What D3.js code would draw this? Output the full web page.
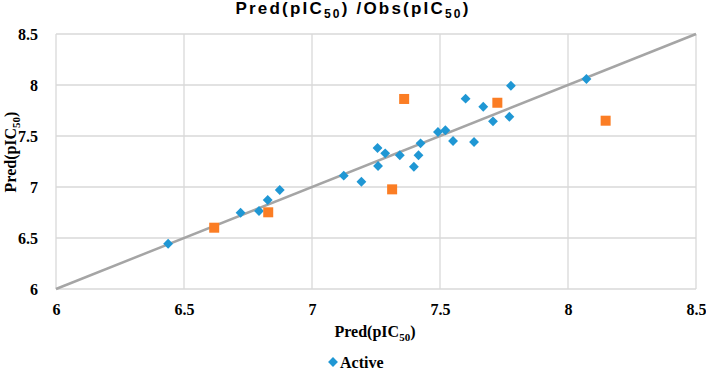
<!DOCTYPE html>
<html><head><meta charset="utf-8">
<script src="https://cdn.jsdelivr.net/npm/d3@7"></script>
<style>body{margin:0;background:#fff}</style>
</head><body>
<svg id="c" width="706" height="369"></svg>
<script>
const activeX = [6.438,6.721,6.793,6.827,6.874,7.124,7.193,7.256,7.286,7.258,7.343,7.398,7.416,7.424,7.492,7.521,7.551,7.600,7.633,7.669,7.707,7.771,7.777,8.072];
const activeY = [6.444,6.748,6.765,6.873,6.971,7.111,7.052,7.382,7.330,7.206,7.311,7.199,7.311,7.428,7.539,7.556,7.451,7.866,7.441,7.787,7.644,7.689,7.993,8.059];
const testX = [6.618,6.829,7.313,7.360,7.724,8.147];
const testY = [6.601,6.752,6.977,7.863,7.826,7.650];
const ticks = [6,6.5,7,7.5,8,8.5];
const tickLabels = ["6","6.5","7","7.5","8","8.5"];
const legendLabels = ["Active"];

const svg = d3.select("#c");
const x = d3.scaleLinear().domain([6,8.5]).range([56,696]);
const y = d3.scaleLinear().domain([6,8.5]).range([289,34]);
const grid = "#d9d9d9";

svg.append("g").selectAll("line").data(ticks).join("line")
  .attr("x1", d=>x(d)).attr("x2", d=>x(d)).attr("y1", y(8.5)).attr("y2", y(6))
  .attr("stroke", grid).attr("stroke-width", 1.3);
svg.append("g").selectAll("line").data(ticks).join("line")
  .attr("y1", d=>y(d)).attr("y2", d=>y(d)).attr("x1", x(6)).attr("x2", x(8.5))
  .attr("stroke", grid).attr("stroke-width", 1.3);

const xAxis = svg.append("g").attr("transform",`translate(0,${y(6)})`)
  .call(d3.axisBottom(x).tickValues(ticks).tickFormat((d,i)=>tickLabels[i]).tickSize(0).tickPadding(15));
const yAxis = svg.append("g").attr("transform",`translate(${x(6)},0)`)
  .call(d3.axisLeft(y).tickValues(ticks).tickFormat((d,i)=>tickLabels[i]).tickSize(0).tickPadding(18));
[xAxis,yAxis].forEach(a=>{
  a.attr("font-family", null).attr("font-size", null);
  a.select(".domain").remove();
  a.selectAll("text").style("font-family","'Liberation Serif',serif").style("font-weight","bold")
   .style("font-size","16px").attr("fill","#000");
});

svg.append("line").attr("x1",x(6)).attr("y1",y(6)).attr("x2",x(8.5)).attr("y2",y(8.5))
  .attr("stroke","#a5a5a5").attr("stroke-width",2.5);

const blue = "#1f97d4", orange = "#fb7d24";
const diamond = d3.symbol().type(d3.symbolDiamond2).size(62);
svg.append("g").selectAll("path").data(activeX).join("path")
  .attr("d", diamond).attr("fill", blue)
  .attr("transform", (d,i)=>`translate(${x(d)},${y(activeY[i])})`);
svg.append("g").selectAll("rect").data(testX).join("rect")
  .attr("x", d=>x(d)-5).attr("y",(d,i)=>y(testY[i])-5).attr("width",10).attr("height",10)
  .attr("fill", orange);

const t = svg.append("text").attr("x",353).attr("y",14).attr("text-anchor","middle")
  .attr("font-family","'Liberation Sans',Arial,sans-serif").attr("font-weight","bold")
  .attr("font-size",17).attr("letter-spacing","2.2px").attr("fill","#000");
t.append("tspan").text("Pred(pIC");
t.append("tspan").attr("font-size",12).attr("dy",4).text("50");
t.append("tspan").attr("dy",-4).text(") /Obs(pIC");
t.append("tspan").attr("font-size",12).attr("dy",4).text("50");
t.append("tspan").attr("dy",-4).text(")");

const xl = svg.append("text").attr("x",375).attr("y",337).attr("text-anchor","middle")
  .attr("font-family","'Liberation Serif',serif").attr("font-weight","bold").attr("font-size",16).attr("fill","#000");
xl.append("tspan").text("Pred(pIC");
xl.append("tspan").attr("font-size",11).attr("dy",4).text("50");
xl.append("tspan").attr("dy",-4).text(")");

const yl = svg.append("text").attr("transform","translate(16,152) rotate(-90)").attr("text-anchor","middle")
  .attr("font-family","'Liberation Serif',serif").attr("font-weight","bold").attr("font-size",16).attr("fill","#000");
yl.append("tspan").text("Pred(pIC");
yl.append("tspan").attr("font-size",11).attr("dy",4).text("50");
yl.append("tspan").attr("dy",-4).text(")");

const lg = svg.append("g").attr("transform","translate(333,362)");
lg.append("path").attr("d", d3.symbol().type(d3.symbolDiamond2).size(62)).attr("fill", blue);
lg.append("text").attr("x",7).attr("y",5.5).text(legendLabels[0])
  .attr("font-family","'Liberation Serif',serif").attr("font-weight","bold").attr("font-size",16).attr("fill","#000");
</script>
</body></html>
